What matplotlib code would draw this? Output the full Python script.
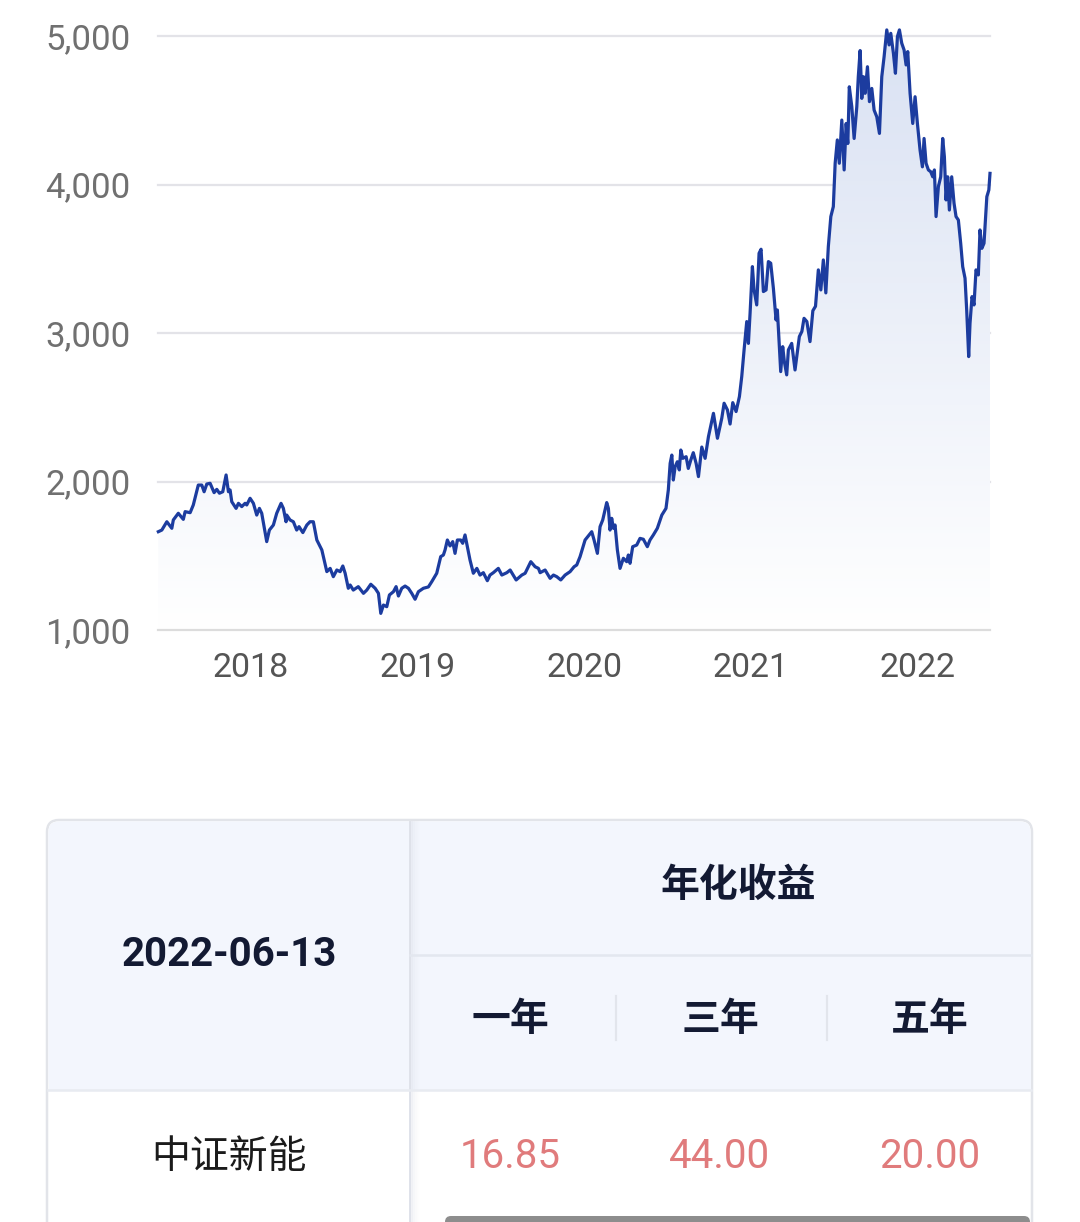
import numpy as np
import matplotlib.pyplot as plt
from matplotlib.patches import FancyBboxPatch, PathPatch, Rectangle

# ------------------------------------------------------------------
# data: index level (decimal years)
# ------------------------------------------------------------------
t_2017 = [2017.443, 2017.464, 2017.494, 2017.524, 2017.533, 2017.563, 2017.593, 2017.604,
          2017.634, 2017.653, 2017.683, 2017.704, 2017.718, 2017.734, 2017.754, 2017.778,
          2017.794, 2017.810, 2017.830, 2017.850, 2017.864, 2017.874, 2017.884, 2017.910,
          2017.924, 2017.944, 2017.964, 2017.974, 2017.994]
v_2017 = [1662, 1673, 1729, 1685, 1741, 1786, 1745, 1797,
          1790, 1842, 1976, 1976, 1931, 1983, 1988, 1925,
          1947, 1921, 1931, 2044, 1931, 1943, 1864, 1819,
          1853, 1831, 1853, 1842, 1887]

t_2018 = [2018.014, 2018.034, 2018.050, 2018.064, 2018.094, 2018.110, 2018.134, 2018.154,
          2018.180, 2018.194, 2018.210, 2018.214, 2018.234, 2018.254, 2018.274, 2018.288,
          2018.311, 2018.335, 2018.354, 2018.374, 2018.395, 2018.425, 2018.455, 2018.475,
          2018.494, 2018.515, 2018.535, 2018.551, 2018.565, 2018.584, 2018.595, 2018.614,
          2018.644, 2018.675, 2018.695, 2018.719, 2018.745, 2018.765, 2018.779, 2018.795,
          2018.815, 2018.831, 2018.855, 2018.871, 2018.885, 2018.905, 2018.925, 2018.945,
          2018.965, 2018.985]
v_2018 = [1853, 1774, 1819, 1786, 1595, 1673, 1707, 1786,
          1853, 1819, 1729, 1774, 1741, 1729, 1673, 1696,
          1656, 1707, 1729, 1729, 1606, 1539, 1393, 1415,
          1359, 1404, 1393, 1431, 1382, 1281, 1303, 1269,
          1292, 1247, 1269, 1308, 1281, 1247, 1112, 1168,
          1157, 1236, 1258, 1292, 1229, 1281, 1296, 1281,
          1247, 1207]

t_2019 = [2019.005, 2019.035, 2019.065, 2019.085, 2019.115, 2019.139, 2019.155, 2019.165,
          2019.179, 2019.195, 2019.211, 2019.225, 2019.239, 2019.259, 2019.271, 2019.285,
          2019.295, 2019.315, 2019.335, 2019.356, 2019.375, 2019.395, 2019.419, 2019.435,
          2019.455, 2019.485, 2019.506, 2019.536, 2019.556, 2019.592, 2019.626, 2019.646,
          2019.680, 2019.706, 2019.726, 2019.736, 2019.766, 2019.796, 2019.816, 2019.836,
          2019.860, 2019.886, 2019.916, 2019.940, 2019.956, 2019.976]
v_2019 = [1258, 1281, 1290, 1325, 1382, 1494, 1505, 1539,
          1606, 1566, 1595, 1516, 1606, 1606, 1584, 1640,
          1584, 1471, 1382, 1415, 1370, 1386, 1332, 1370,
          1386, 1415, 1370, 1386, 1404, 1337, 1370, 1382,
          1460, 1426, 1415, 1386, 1404, 1348, 1370, 1359,
          1337, 1370, 1393, 1426, 1438, 1494]

t_2020 = [2020.006, 2020.046, 2020.060, 2020.080, 2020.096, 2020.112, 2020.136, 2020.146,
          2020.156, 2020.166, 2020.176, 2020.186, 2020.200, 2020.216, 2020.236, 2020.256,
          2020.266, 2020.276, 2020.292, 2020.316, 2020.336, 2020.356, 2020.380, 2020.396,
          2020.416, 2020.440, 2020.467, 2020.492, 2020.506, 2020.517, 2020.527, 2020.536,
          2020.547, 2020.560, 2020.572, 2020.581, 2020.593, 2020.613, 2020.626, 2020.641,
          2020.656, 2020.673, 2020.687, 2020.707, 2020.727, 2020.747, 2020.777, 2020.801,
          2020.827, 2020.841, 2020.861, 2020.877, 2020.893, 2020.913, 2020.933, 2020.947,
          2020.961, 2020.977, 2020.987, 2020.997]
v_2020 = [1606, 1662, 1606, 1516, 1696, 1741, 1858, 1819,
          1673, 1752, 1685, 1707, 1539, 1415, 1483, 1460,
          1505, 1449, 1561, 1572, 1617, 1611, 1561, 1606,
          1640, 1685, 1774, 1819, 1943, 2122, 2178, 2010,
          2100, 2133, 2078, 2212, 2156, 2167, 2088, 2145,
          2194, 2122, 2033, 2232, 2156, 2302, 2459, 2291,
          2426, 2527, 2482, 2387, 2531, 2471, 2572, 2707,
          2886, 3077, 2930, 3133]

t_2021 = [2021.011, 2021.021, 2021.037, 2021.051, 2021.063, 2021.077, 2021.093, 2021.107,
          2021.121, 2021.137, 2021.153, 2021.161, 2021.173, 2021.181, 2021.193, 2021.203,
          2021.217, 2021.227, 2021.247, 2021.267, 2021.293, 2021.308, 2021.321, 2021.338,
          2021.357, 2021.374, 2021.390, 2021.407, 2021.422, 2021.437, 2021.452, 2021.467,
          2021.482, 2021.497, 2021.508, 2021.521, 2021.533, 2021.548, 2021.562, 2021.574,
          2021.584, 2021.593, 2021.608, 2021.622, 2021.638, 2021.647, 2021.658, 2021.668,
          2021.678, 2021.688, 2021.702, 2021.714, 2021.728, 2021.742, 2021.758, 2021.774,
          2021.788, 2021.802, 2021.818, 2021.832, 2021.842, 2021.858, 2021.870, 2021.882,
          2021.894, 2021.908, 2021.922, 2021.934, 2021.944, 2021.958, 2021.974, 2021.988]
v_2021 = [3447, 3290, 3189, 3537, 3564, 3279, 3290, 3481,
          3470, 3301, 3088, 3155, 2908, 2740, 2908, 2807,
          2718, 2886, 2930, 2751, 2976, 3010, 3099, 3077,
          2942, 3150, 3180, 3425, 3290, 3492, 3270, 3582,
          3784, 3851, 4143, 4300, 4143, 4434, 4098, 4411,
          4276, 4658, 4524, 4310, 4524, 4726, 4902, 4580,
          4726, 4614, 4793, 4558, 4647, 4501, 4456, 4344,
          4726, 4861, 5041, 4940, 5018, 4883, 4749, 4996,
          5041, 4951, 4906, 4805, 4895, 4614, 4411, 4591]

t_2022 = [2022.002, 2022.018, 2022.032, 2022.042, 2022.054, 2022.068, 2022.082, 2022.094,
          2022.104, 2022.114, 2022.128, 2022.142, 2022.154, 2022.164, 2022.174, 2022.184,
          2022.194, 2022.208, 2022.222, 2022.234, 2022.248, 2022.262, 2022.274, 2022.288,
          2022.298, 2022.310, 2022.318, 2022.330, 2022.342, 2022.354, 2022.368, 2022.378,
          2022.389, 2022.402, 2022.419, 2022.431, 2022.438]
v_2022 = [4411, 4231, 4119, 4310, 4143, 4098, 4086, 4052,
          4098, 3784, 3986, 4052, 4310, 4187, 3896, 4052,
          3828, 4052, 3874, 3784, 3761, 3604, 3447, 3369,
          3155, 2841, 3066, 3245, 3189, 3425, 3391, 3694,
          3570, 3604, 3918, 3963, 4075]

year_ticks = [2018, 2019, 2020, 2021, 2022]
y_ticks = [1000, 2000, 3000, 4000, 5000]

# table contents
table_date = "2022-06-13"
table_title = "年化收益"
periods = ["一年", "三年", "五年"]
index_name = "中证新能"
returns = ["16.85", "44.00", "20.00"]

t = np.array(t_2017 + t_2018 + t_2019 + t_2020 + t_2021 + t_2022)
v = np.array(v_2017 + v_2018 + v_2019 + v_2020 + v_2021 + v_2022)

# ------------------------------------------------------------------
# figure
# ------------------------------------------------------------------
W, H = 1080, 1222
fig = plt.figure(figsize=(W / 100, H / 100), dpi=100)
fig.patch.set_facecolor("white")

# overlay axes in pixel coordinates for the table part
bg = fig.add_axes([0, 0, 1, 1])
bg.set_xlim(0, W)
bg.set_ylim(H, 0)
bg.axis("off")

# chart axes
x0, x1, y_top, y_bot = 158, 990, 36, 630
ax = fig.add_axes([x0 / W, 1 - y_bot / H, (x1 - x0) / W, (y_bot - y_top) / H])
ax.set_facecolor("none")

for yv in y_ticks[1:]:
    ax.axhline(yv, color="#e3e3e8", lw=1.6, zorder=1, clip_on=False)

# gradient fill under the curve
fill = ax.fill_between(t, v, 1000, color="none", lw=0)
clip = PathPatch(fill.get_paths()[0], transform=ax.transData, facecolor="none", edgecolor="none")
ax.add_patch(clip)
grad = np.linspace(0, 1, 256).reshape(-1, 1)
top_c = np.array([0.855, 0.886, 0.953])
bot_c = np.array([1.0, 1.0, 1.0])
img = top_c[None, None, :] * (1 - grad[:, :, None]) + bot_c[None, None, :] * grad[:, :, None]
im = ax.imshow(img, extent=[t[0], t[-1], 1000, 5000], aspect="auto", zorder=2,
               interpolation="bicubic", origin="upper")
im.set_clip_path(clip)
ax.set_ylim(1000, 5000)
ax.set_xlim(2017.441, 2022.438)

ax.plot(t, v, color="#1c3c9f", lw=2.3, zorder=4, clip_on=False)

for s in ["top", "right", "left"]:
    ax.spines[s].set_visible(False)
ax.spines["bottom"].set_color("#dcdcdc")
ax.spines["bottom"].set_linewidth(1.6)
ax.spines["bottom"].set_zorder(3)

ax.set_xticks(year_ticks)
ax.set_xticklabels([str(y) for y in year_ticks])
ax.set_yticks(y_ticks)
ax.set_yticklabels([f"{y:,}" for y in y_ticks])
ax.tick_params(axis="x", direction="in", length=9, width=1.6, color="#dcdcdc",
               pad=16, labelsize=24.5, labelcolor="#555555")
ax.tick_params(axis="y", length=0, pad=20, labelsize=25, labelcolor="#707070")
for lab in ax.get_xticklabels() + ax.get_yticklabels():
    lab.set_family(["Roboto", "DejaVu Sans"])

# ------------------------------------------------------------------
# table
# ------------------------------------------------------------------
L, R, T = 47, 1032, 820
col_split = 410
row1, row2 = 955, 1090
head_bg = "#f3f6fd"
line_c = "#e3e7ef"

panel = FancyBboxPatch((L, T), R - L, 460, boxstyle="round,pad=0,rounding_size=12",
                       facecolor="white", edgecolor="#e2e4e9", lw=1.8, zorder=1)
bg.add_patch(panel)
bg.add_patch(FancyBboxPatch((L + 1.5, T + 1.5), R - L - 3, row2 - T - 1.5,
                            boxstyle="round,pad=0,rounding_size=10",
                            facecolor=head_bg, edgecolor="none", zorder=1.5))
bg.add_patch(Rectangle((L + 1.5, T + 20), R - L - 3, row2 - T - 20,
                       facecolor=head_bg, edgecolor="none", zorder=1.6))

# column split with a soft shadow
bg.plot([col_split, col_split], [T + 2, H + 10], color="#dfe2ea", lw=1.4, zorder=2)
for i, a in enumerate([0.35, 0.2, 0.1, 0.05]):
    bg.plot([col_split + 2 + i * 2, col_split + 2 + i * 2], [T + 2, H + 10], color="#d8dce6",
            lw=1.5, alpha=a, zorder=2)
bg.plot([col_split, R - 1], [row1, row1], color=line_c, lw=1.8, zorder=2)
bg.plot([L + 1, R - 1], [row2, row2], color="#e8ebf1", lw=1.8, zorder=2)

col_x = [510, 720, 930]
for xd in [616, 827]:
    bg.plot([xd, xd], [996, 1040], color="#e2e5ec", lw=1.6, zorder=2)

navy = "#131a33"
cjk = ["Noto Sans CJK SC", "DejaVu Sans"]
bg.text(229, 955, table_date, ha="center", va="center", fontsize=29,
        fontweight="bold", color=navy, family=["Roboto", "DejaVu Sans"], zorder=3)
bg.text(738, 885, table_title, ha="center", va="center", fontsize=28,
        fontweight="bold", color=navy, family=cjk, zorder=3)
for x, p in zip(col_x, periods):
    bg.text(x, 1020, p, ha="center", va="center", fontsize=28, fontweight="bold",
            color=navy, family=cjk, zorder=3)
bg.text(229, 1157, index_name, ha="center", va="center", fontsize=28,
        color="#1b1b1b", family=cjk, zorder=3)
for x, r in zip(col_x, returns):
    bg.text(x, 1157, r, ha="center", va="center", fontsize=29, color="#e07b7c",
            family=["Roboto", "DejaVu Sans"], zorder=3)

# scrollbar at the bottom edge
bg.add_patch(FancyBboxPatch((445, 1216), 585, 20, boxstyle="round,pad=0,rounding_size=6",
                            facecolor="#8d8d8d", edgecolor="none", zorder=4))

fig.savefig("out.png", dpi=100)
